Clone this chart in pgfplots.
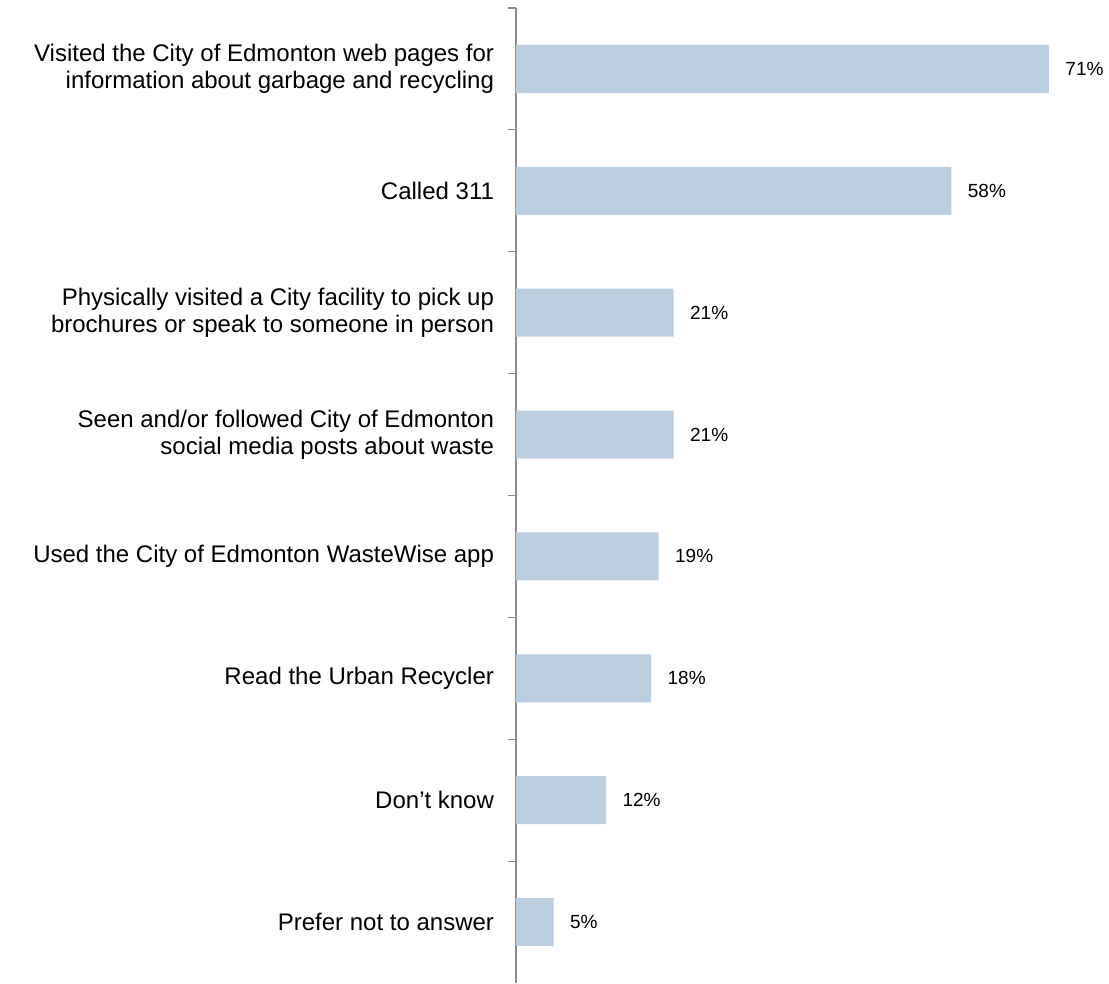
\documentclass[border=0pt]{standalone}
\usepackage{pgfplots}
\pgfplotsset{compat=1.18}
\usepackage{fontspec}
\setmainfont{Liberation Sans}
\definecolor{barblue}{RGB}{187,206,224}
\definecolor{axgray}{RGB}{140,140,140}
\begin{document}
\begin{tikzpicture}
\begin{axis}[
  scale only axis,
  width=593pt, height=975pt,
  xbar, bar width=48pt,
  xmin=0, xmax=79,
  ymin=-0.5, ymax=7.5,
  y dir=reverse,
  axis x line=none,
  axis y line*=left,
  y axis line style={draw=axgray, line width=1.2pt, -},
  ytick={0,1,2,3,4,5,6,7},
  major tick length=0pt,
  minor ytick={-0.5,0.5,1.5,2.5,3.5,4.5,5.5,6.5},
  minor tick length=8pt,
  tick align=outside,
  minor tick style={draw=axgray, line width=1.2pt},
  yticklabels={
    {Visited the City of Edmonton web pages for\\information about garbage and recycling},
    {Called 311},
    {Physically visited a City facility to pick up\\brochures or speak to someone in person},
    {Seen and/or followed City of Edmonton\\social media posts about waste},
    {Used the City of Edmonton WasteWise app},
    {Read the Urban Recycler},
    {Don’t know},
    {Prefer not to answer}},
  yticklabel style={align=right, font=\fontsize{24}{27}\selectfont, xshift=-18.5pt, text=black},
  nodes near coords={\pgfmathprintnumber[assume math mode=true]{\pgfplotspointmeta}\%},
  nodes near coords style={font=\fontsize{19}{22}\selectfont, anchor=west, xshift=13pt, text=black},
  point meta=explicit,
  clip=false,
]
\addplot[fill=barblue, draw=none] coordinates {
  (71,0) [71]
  (58,1) [58]
  (21,2) [21]
  (21,3) [21]
  (19,4) [19]
  (18,5) [18]
  (12,6) [12]
  (5,7) [5]
};
\path (rel axis cs:0,1) ++(-516pt,8pt);
\path (rel axis cs:1,0);
\end{axis}
\end{tikzpicture}
\end{document}
